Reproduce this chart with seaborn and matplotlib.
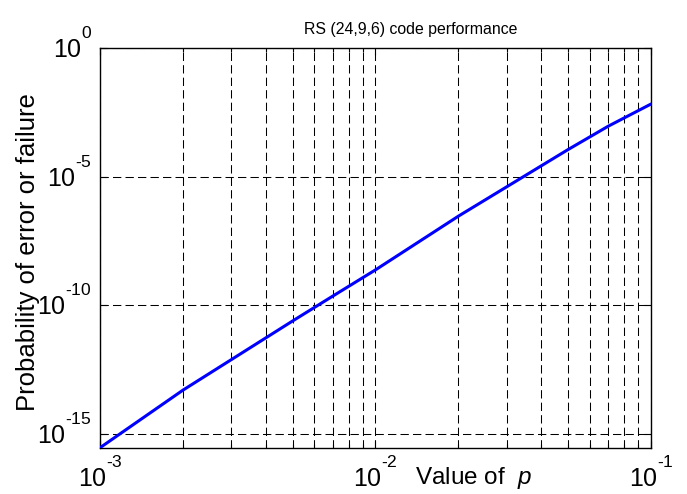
import matplotlib
matplotlib.use("Agg")
import math
import matplotlib.pyplot as plt
import matplotlib.ticker as mticker
import matplotlib.transforms as mtrans
import seaborn as sns
import pandas as pd

try:
    import matplotlib._mathtext as _mt
    _mt.FontConstantsBase.sup1 = 1.35
except Exception:
    pass

p_values = [1e-3, 2e-3, 5e-3, 7e-3, 1e-2, 2e-2, 5e-2, 7e-2, 1e-1]
prob_fail = [2.82e-16, 4.90e-14, 2.40e-11, 2.24e-10, 2.34e-9, 2.88e-7,
             1.12e-4, 9.12e-4, 6.61e-3]
y_ticks = [1e-15, 1e-10, 1e-5, 1e0]
title_text = "RS (24,9,6) code performance"
xlabel_text = "Value of  $\\it{p}$"
ylabel_text = "Probability of error or failure"

sns.set_style("white")
plt.rcParams['font.family'] = ['Liberation Sans', 'DejaVu Sans']
plt.rcParams['mathtext.fontset'] = 'custom'
plt.rcParams['mathtext.rm'] = 'Liberation Sans'
plt.rcParams['mathtext.it'] = 'Liberation Sans:italic'
plt.rcParams['lines.scale_dashes'] = False
for k in ['text.color', 'axes.labelcolor', 'xtick.color', 'ytick.color']:
    plt.rcParams[k] = 'black'

df = pd.DataFrame({"p": p_values, "P": prob_fail})

fig = plt.figure(figsize=(6.87, 4.94), dpi=100)
ax = fig.add_axes([100/687, 1-448/494, 551/687, 400/494])

sns.lineplot(data=df, x="p", y="P", ax=ax, color=(0, 0, 1), linewidth=2.2, zorder=3)

ax.set_xscale("log")
ax.set_yscale("log")
ax.set_xlim(1e-3, 1e-1)
ax.set_ylim(10**-15.56, 1)


def log_fmt(v, pos=None):
    e = int(round(math.log10(v)))
    if e < 0:
        return "$\\mathregular{10^{\\text{-}%d}}$" % (-e)
    return "$\\mathregular{10^{%d}}$" % e


ax.xaxis.set_major_locator(mticker.LogLocator(base=10, numticks=10))
ax.xaxis.set_minor_locator(mticker.LogLocator(base=10, subs=range(2, 10), numticks=20))
ax.xaxis.set_minor_formatter(mticker.NullFormatter())
ax.xaxis.set_major_formatter(mticker.FuncFormatter(log_fmt))
ax.yaxis.set_major_locator(mticker.FixedLocator(y_ticks))
ax.yaxis.set_minor_locator(mticker.NullLocator())
ax.yaxis.set_major_formatter(mticker.FuncFormatter(log_fmt))

dash = (0, (6, 3))
ax.grid(True, which="major", axis="both", color="black", linestyle=dash, linewidth=0.75)
ax.grid(True, which="minor", axis="x", color="black", linestyle=dash, linewidth=0.75)
ax.set_axisbelow(True)

for s in ax.spines.values():
    s.set_visible(True)
    s.set_color("black")
    s.set_linewidth(1.0)

ax.tick_params(which="both", direction="in", top=True, right=True, bottom=True, left=True,
               color="black")
ax.tick_params(which="major", length=5, width=0.8, labelsize=18, pad=6)
ax.tick_params(which="minor", length=3, width=0.8)

# lift the y tick labels so that the "10" sits on the tick line
shift = mtrans.ScaledTranslation(0, 5/100, fig.dpi_scale_trans)
for lab in ax.get_yticklabels():
    lab.set_transform(lab.get_transform() + shift)

ax.set_title(title_text, fontsize=11.4, x=0.564, pad=10)
ax.set_xlabel(xlabel_text, fontsize=17.5)
ax.xaxis.set_label_coords(0.678, -0.043)
ax.set_ylabel(ylabel_text, fontsize=18.5)
ax.yaxis.set_label_coords(-0.108, 0.491)

fig.savefig("out.png", dpi=100, facecolor="white")
